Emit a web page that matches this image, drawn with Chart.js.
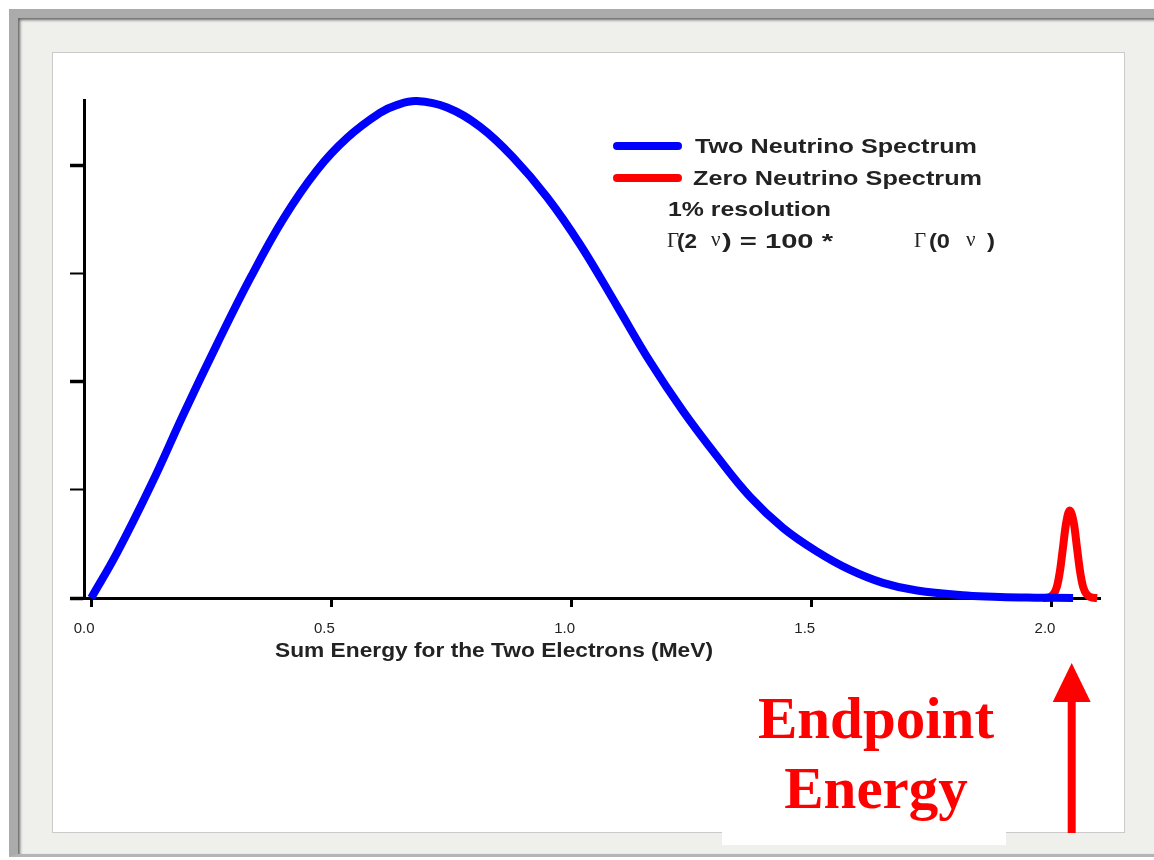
<!DOCTYPE html>
<html>
<head>
<meta charset="utf-8">
<title>Two neutrino vs zero neutrino spectrum</title>
<script src="https://cdn.jsdelivr.net/npm/chart.js@4.4.1/dist/chart.umd.min.js"></script>
<style>
  body { margin: 0; background: #fff; width: 1154px; height: 860px; overflow: hidden; position: relative; }
  .frame {
    position: absolute; left: 9px; top: 9px; width: 1170px; height: 836px;
    background: #efefec;
    border-top: 9px solid #ababab; border-left: 9px solid #ababab; border-bottom: 3px solid #b4b4b4;
    box-shadow: inset 2px 2px 3px #666;
  }
  .panel { position: absolute; left: 52px; top: 52px; width: 1071px; height: 779px; background: #fff; border: 1px solid #cacaca; }
  #spectrum { position: absolute; left: 0; top: 0; }
</style>
</head>
<body>
<div class="frame"></div>
<div class="panel"></div>
<canvas id="spectrum" width="1154" height="860"></canvas>
<script>
// values: energy in MeV, counts in arbitrary units (1 = one y tick)
const twoNuEnergy = [0.000, 0.054, 0.125, 0.194, 0.262, 0.331, 0.400, 0.470, 0.533, 0.601, 0.637, 0.678,
  0.741, 0.810, 0.878, 0.949, 1.018, 1.095, 1.163, 1.232, 1.303, 1.371, 1.440, 1.511, 1.580, 1.648, 1.719,
  1.823, 1.892, 1.965, 2.044];
const twoNuCounts = [0.00, 0.42, 1.05, 1.72, 2.35, 2.96, 3.51, 3.96, 4.26, 4.49, 4.565, 4.60,
  4.54, 4.36, 4.08, 3.71, 3.27, 2.70, 2.19, 1.73, 1.31, 0.94, 0.65, 0.43, 0.26, 0.14, 0.069,
  0.023, 0.009, 0.003, 0.0];

const zeroNuEnergy = [1.981, 1.996, 2.010, 2.017, 2.023, 2.029, 2.037, 2.046, 2.052, 2.058, 2.065, 2.079, 2.094];
const zeroNuCounts = [0, 0.01, 0.10, 0.26, 0.47, 0.68, 0.81, 0.68, 0.47, 0.26, 0.10, 0.01, 0];

const xTickValues = [0, 0.5, 1.0, 1.5, 2.0];
const xTickLabels = ["0.0", "0.5", "1.0", "1.5", "2.0"];
const yTickValues = [0, 1, 2, 3, 4];
const endpointEnergy = 2.039;

const SANS = "'Liberation Sans', Arial, sans-serif";
const SERIF = "'Liberation Serif', 'Times New Roman', serif";

function toPoints(xs, ys) {
  return xs.map((x, i) => ({ x: x, y: ys[i] }));
}

// draw text squeezed/stretched to a given width (the original figure is a stretched bitmap)
function fitText(ctx, text, x, y, width) {
  const w = ctx.measureText(text).width;
  ctx.save();
  ctx.translate(x, y);
  ctx.scale(width / w, 1);
  ctx.fillText(text, 0, 0);
  ctx.restore();
}

// legend, notes, axis title and the "Endpoint Energy" call-out
const decorations = {
  id: "decorations",
  afterDraw(chart) {
    const ctx = chart.ctx;
    const xScale = chart.scales.x;
    ctx.save();
    ctx.textBaseline = "middle";
    ctx.textAlign = "left";

    // legend
    const legendRows = [
      { y: 146, x: 695, w: 282 },
      { y: 178, x: 693, w: 289 }
    ];
    chart.data.datasets.forEach((ds, i) => {
      const row = legendRows[i];
      ctx.strokeStyle = ds.borderColor;
      ctx.lineWidth = 8;
      ctx.lineCap = "round";
      ctx.beginPath();
      ctx.moveTo(617, row.y);
      ctx.lineTo(678, row.y);
      ctx.stroke();
      ctx.fillStyle = "#222";
      ctx.font = "bold 21px " + SANS;
      fitText(ctx, ds.label, row.x, row.y + 1, row.w);
    });

    ctx.font = "bold 21px " + SANS;
    fitText(ctx, "1% resolution", 668, 210, 163);

    // Γ(2 ν) = 100 * Γ(0 ν)
    const gy = 241;
    ctx.font = "21px " + SERIF;
    ctx.fillText("\u0393", 667, gy);
    ctx.fillText("\u03BD", 711, gy - 1);
    ctx.fillText("\u0393", 914, gy);
    ctx.fillText("\u03BD", 966, gy - 1);
    ctx.font = "bold 21px " + SANS;
    fitText(ctx, "(2", 677, gy + 1, 20);
    fitText(ctx, ") = 100 *", 722, gy + 1, 111);
    fitText(ctx, "(0", 929, gy + 1, 21);
    fitText(ctx, ")", 987, gy + 1, 8);

    // x axis title
    ctx.fillStyle = "#222";
    ctx.font = "bold 20px " + SANS;
    fitText(ctx, "Sum Energy for the Two Electrons (MeV)", 275, 651, 438);

    // Endpoint Energy call-out
    ctx.fillStyle = "#fff";
    ctx.fillRect(722, 672, 284, 173);
    ctx.fillStyle = "#ff0000";
    ctx.textAlign = "center";
    ctx.textBaseline = "alphabetic";
    ctx.font = "bold 59px " + SERIF;
    ctx.fillText("Endpoint", 876, 738);
    ctx.fillText("Energy", 876, 808);

    const ax = xScale.getPixelForValue(endpointEnergy) + 1;
    ctx.strokeStyle = "#ff0000";
    ctx.lineWidth = 8;
    ctx.lineCap = "butt";
    ctx.beginPath();
    ctx.moveTo(ax, 833);
    ctx.lineTo(ax, 700);
    ctx.stroke();
    ctx.beginPath();
    ctx.moveTo(ax, 663);
    ctx.lineTo(ax - 19, 702);
    ctx.lineTo(ax + 19, 702);
    ctx.closePath();
    ctx.fill();
    ctx.restore();
  }
};

new Chart(document.getElementById("spectrum"), {
  type: "line",
  data: {
    datasets: [
      {
        label: "Two Neutrino Spectrum",
        data: toPoints(twoNuEnergy, twoNuCounts),
        borderColor: "#0000ff",
        borderWidth: 8,
        tension: 0.4,
        pointRadius: 0,
        fill: false,
        clip: false
      },
      {
        label: "Zero Neutrino Spectrum",
        data: toPoints(zeroNuEnergy, zeroNuCounts),
        borderColor: "#ff0000",
        borderWidth: 8,
        cubicInterpolationMode: "monotone",
        pointRadius: 0,
        fill: false,
        clip: false
      }
    ]
  },
  options: {
    responsive: false,
    animation: false,
    devicePixelRatio: 1,
    layout: { padding: { left: 70, right: 54, top: 100, bottom: 200 } },
    plugins: { legend: { display: false }, tooltip: { enabled: false } },
    scales: {
      x: {
        type: "linear",
        min: -0.015,
        max: 2.1,
        afterBuildTicks: (axis) => { axis.ticks = xTickValues.map((v) => ({ value: v })); },
        afterFit: (axis) => { axis.height = 62; },
        border: { display: true, color: "#000", width: 3 },
        grid: { drawOnChartArea: false, drawTicks: true, tickLength: 9, tickColor: "#000", tickWidth: 3 },
        ticks: {
          callback: (value, index) => xTickLabels[index],
          color: "#222",
          font: { family: SANS, size: 15 },
          padding: 13,
          labelOffset: -7,
          maxRotation: 0,
          autoSkip: false
        }
      },
      y: {
        type: "linear",
        min: 0,
        max: 4.61,
        afterBuildTicks: (axis) => { axis.ticks = yTickValues.map((v) => ({ value: v })); },
        afterFit: (axis) => { axis.width = 14; },
        border: { display: true, color: "#000", width: 3 },
        grid: {
          drawOnChartArea: false,
          drawTicks: true,
          tickLength: 14,
          tickColor: "#000",
          tickWidth: (c) => (c.tick && c.tick.value % 2 === 0 ? 3.5 : 2)
        },
        ticks: { display: false }
      }
    }
  },
  plugins: [decorations]
});
</script>
</body>
</html>
